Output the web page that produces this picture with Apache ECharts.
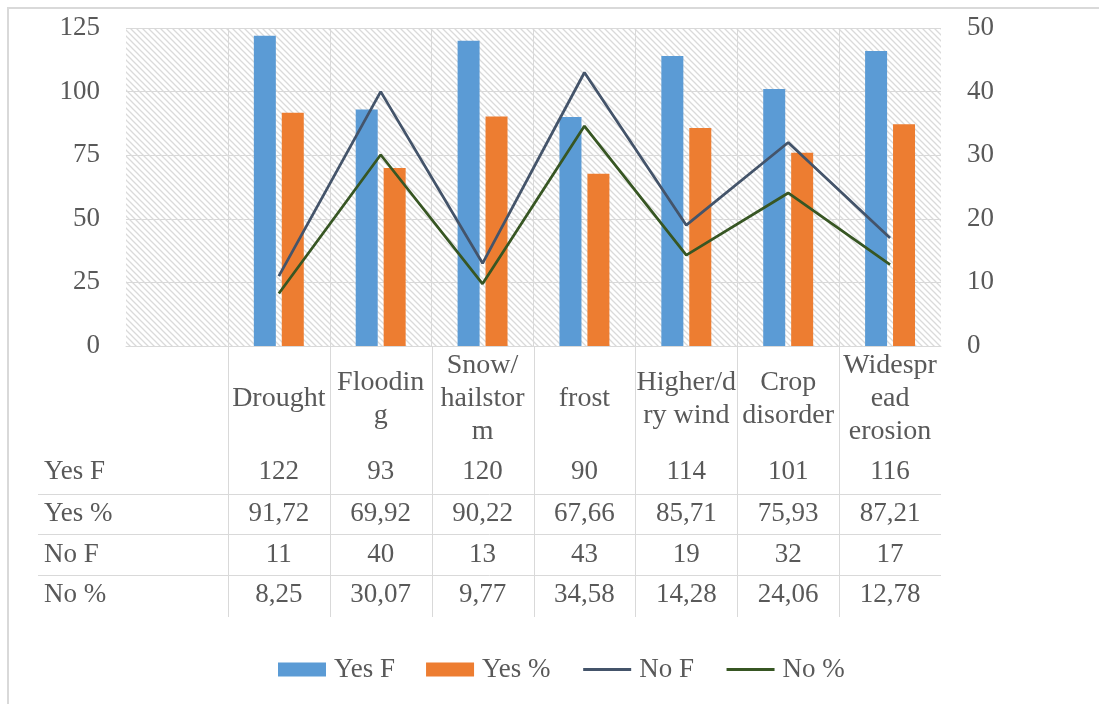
<!DOCTYPE html>
<html>
<head>
<meta charset="utf-8">
<script src="https://cdn.jsdelivr.net/npm/echarts@6/dist/echarts.min.js"></script>
<style>
html,body{margin:0;padding:0;background:#fff;}
#main{width:1099px;height:704px;}
</style>
</head>
<body>
<div id="main"></div>
<script>
const categories = ['Drought','Flooding','Snow/hailstorm','frost','Higher/dry wind','Crop disorder','Widespread erosion'];
const categoryLabels = ['Drought','Floodin\ng','Snow/\nhailstor\nm','frost','Higher/d\nry wind','Crop\ndisorder','Widespr\nead\nerosion'];
const yesF = [122,93,120,90,114,101,116];
const yesPct = [91.72,69.92,90.22,67.66,85.71,75.93,87.21];
const noF = [11,40,13,43,19,32,17];
const noPct = [8.25,30.07,9.77,34.58,14.28,24.06,12.78];
const seriesNames = ['Yes F','Yes %','No F','No %'];
const leftAxis = {min:0, max:125, interval:25};
const rightAxis = {min:0, max:50, interval:10};

const FONT = 'Liberation Serif';
const TXT = '#595959';
const GRID = '#d9d9d9';

// hatch pattern
const P = 6;
const pc = document.createElement('canvas');
pc.width = P; pc.height = P;
const pctx = pc.getContext('2d');
pctx.fillStyle = '#ffffff'; pctx.fillRect(0,0,P,P);
pctx.strokeStyle = '#dadada'; pctx.lineWidth = 1.3;
pctx.beginPath();
pctx.moveTo(-1,-1); pctx.lineTo(P+1,P+1);
pctx.moveTo(-1,P-1); pctx.lineTo(1,P+1);
pctx.moveTo(P-1,-1); pctx.lineTo(P+1,1);
pctx.stroke();

const chart = echarts.init(document.getElementById('main'));
const pad = arr => [null].concat(arr);
const noSym = {color:'rgba(0,0,0,0)', borderColor:'rgba(0,0,0,0)', borderWidth:0, opacity:0};

chart.setOption({
  animation:false,
  backgroundColor:'#ffffff',
  textStyle:{fontFamily:FONT},
  grid:{left:126, right:158, top:28, bottom:358, show:true, backgroundColor:{image:pc, repeat:'repeat'}, borderWidth:0},
  legend:{
    left:278, top:656, padding:0, itemWidth:48, itemHeight:14, itemGap:31,
    textStyle:{fontFamily:FONT, fontSize:27, color:TXT, padding:[0,0,0,3]},
    data:[
      {name:'Yes F', icon:'rect'},
      {name:'Yes %', icon:'rect'},
      {name:'No F', itemStyle:noSym, lineStyle:{width:3.2}},
      {name:'No %', itemStyle:noSym, lineStyle:{width:3.2}}
    ]
  },
  xAxis:{
    type:'category',
    data:[''].concat(categories),
    boundaryGap:true,
    axisLine:{show:true, lineStyle:{color:GRID, width:1}},
    axisTick:{show:false},
    splitLine:{show:true, showMinLine:false, showMaxLine:false, lineStyle:{color:GRID, width:1}},
    axisLabel:{
      interval:0, margin:53, verticalAlign:'middle', lineHeight:33,
      fontFamily:FONT, fontSize:28, color:TXT,
      formatter:(v, i) => i === 0 ? '' : categoryLabels[i-1]
    }
  },
  yAxis:[
    {type:'value', min:leftAxis.min, max:leftAxis.max, interval:leftAxis.interval,
     axisLine:{show:false}, axisTick:{show:false},
     splitLine:{show:true, lineStyle:{color:GRID, width:1}},
     axisLabel:{margin:26, fontFamily:FONT, fontSize:27, color:TXT}},
    {type:'value', min:rightAxis.min, max:rightAxis.max, interval:rightAxis.interval,
     axisLine:{show:false}, axisTick:{show:false},
     splitLine:{show:false},
     axisLabel:{margin:26, fontFamily:FONT, fontSize:27, color:TXT}}
  ],
  series:[
    {name:seriesNames[0], type:'bar', data:pad(yesF), barWidth:22, barGap:'27%', itemStyle:{color:'#5B9BD5'}},
    {name:seriesNames[1], type:'bar', data:pad(yesPct), barWidth:22, barGap:'27%', itemStyle:{color:'#ED7D31'}},
    {name:seriesNames[2], type:'line', yAxisIndex:1, data:pad(noF), symbol:'none', showSymbol:false,
     lineStyle:{color:'#44546A', width:2.75}, itemStyle:{color:'#44546A'}},
    {name:seriesNames[3], type:'line', yAxisIndex:1, data:pad(noPct), symbol:'none', showSymbol:false,
     lineStyle:{color:'#375623', width:2.75}, itemStyle:{color:'#375623'}}
  ]
});

// data table and frame
const fmtInt = v => String(v);
const fmtDec = v => v.toFixed(2).replace('.', ',');
const rows = [
  {name:'Yes F', vals:yesF, fmt:fmtInt},
  {name:'Yes %', vals:yesPct, fmt:fmtDec},
  {name:'No F', vals:noF, fmt:fmtInt},
  {name:'No %', vals:noPct, fmt:fmtDec}
];
const rowY = [472, 514, 555, 595];
const rowLineY = [494, 534, 575];
const tableBottom = 617;
const tableLeft = 38;

const cx = i => chart.convertToPixel({xAxisIndex:0}, i);
const band = cx(2) - cx(1);
const y0 = chart.convertToPixel({yAxisIndex:0}, 0);
const xRight = cx(categories.length) + band/2;

const g = [];
g.push({type:'rect', shape:{x:8, y:8, width:1200, height:800}, style:{fill:'none', stroke:'#d9d9d9', lineWidth:2}, z:-1, silent:true});
for (let i = 1; i <= categories.length; i++) {
  const xb = Math.round(cx(i) - band/2) + 0.5;
  g.push({type:'line', shape:{x1:xb, y1:y0, x2:xb, y2:tableBottom}, style:{stroke:GRID, lineWidth:1}, silent:true});
}
rowLineY.forEach(y => {
  g.push({type:'line', shape:{x1:tableLeft, y1:y+0.5, x2:xRight, y2:y+0.5}, style:{stroke:GRID, lineWidth:1}, silent:true});
});
rows.forEach((r, ri) => {
  g.push({type:'text', x:44, y:rowY[ri], style:{text:r.name, fontFamily:FONT, fontSize:27, fill:TXT, align:'left', verticalAlign:'middle'}, silent:true});
  r.vals.forEach((v, ci) => {
    g.push({type:'text', x:cx(ci+1), y:rowY[ri], style:{text:r.fmt(v), fontFamily:FONT, fontSize:27, fill:TXT, align:'center', verticalAlign:'middle'}, silent:true});
  });
});
chart.setOption({graphic:{elements:g}});
</script>
</body>
</html>
